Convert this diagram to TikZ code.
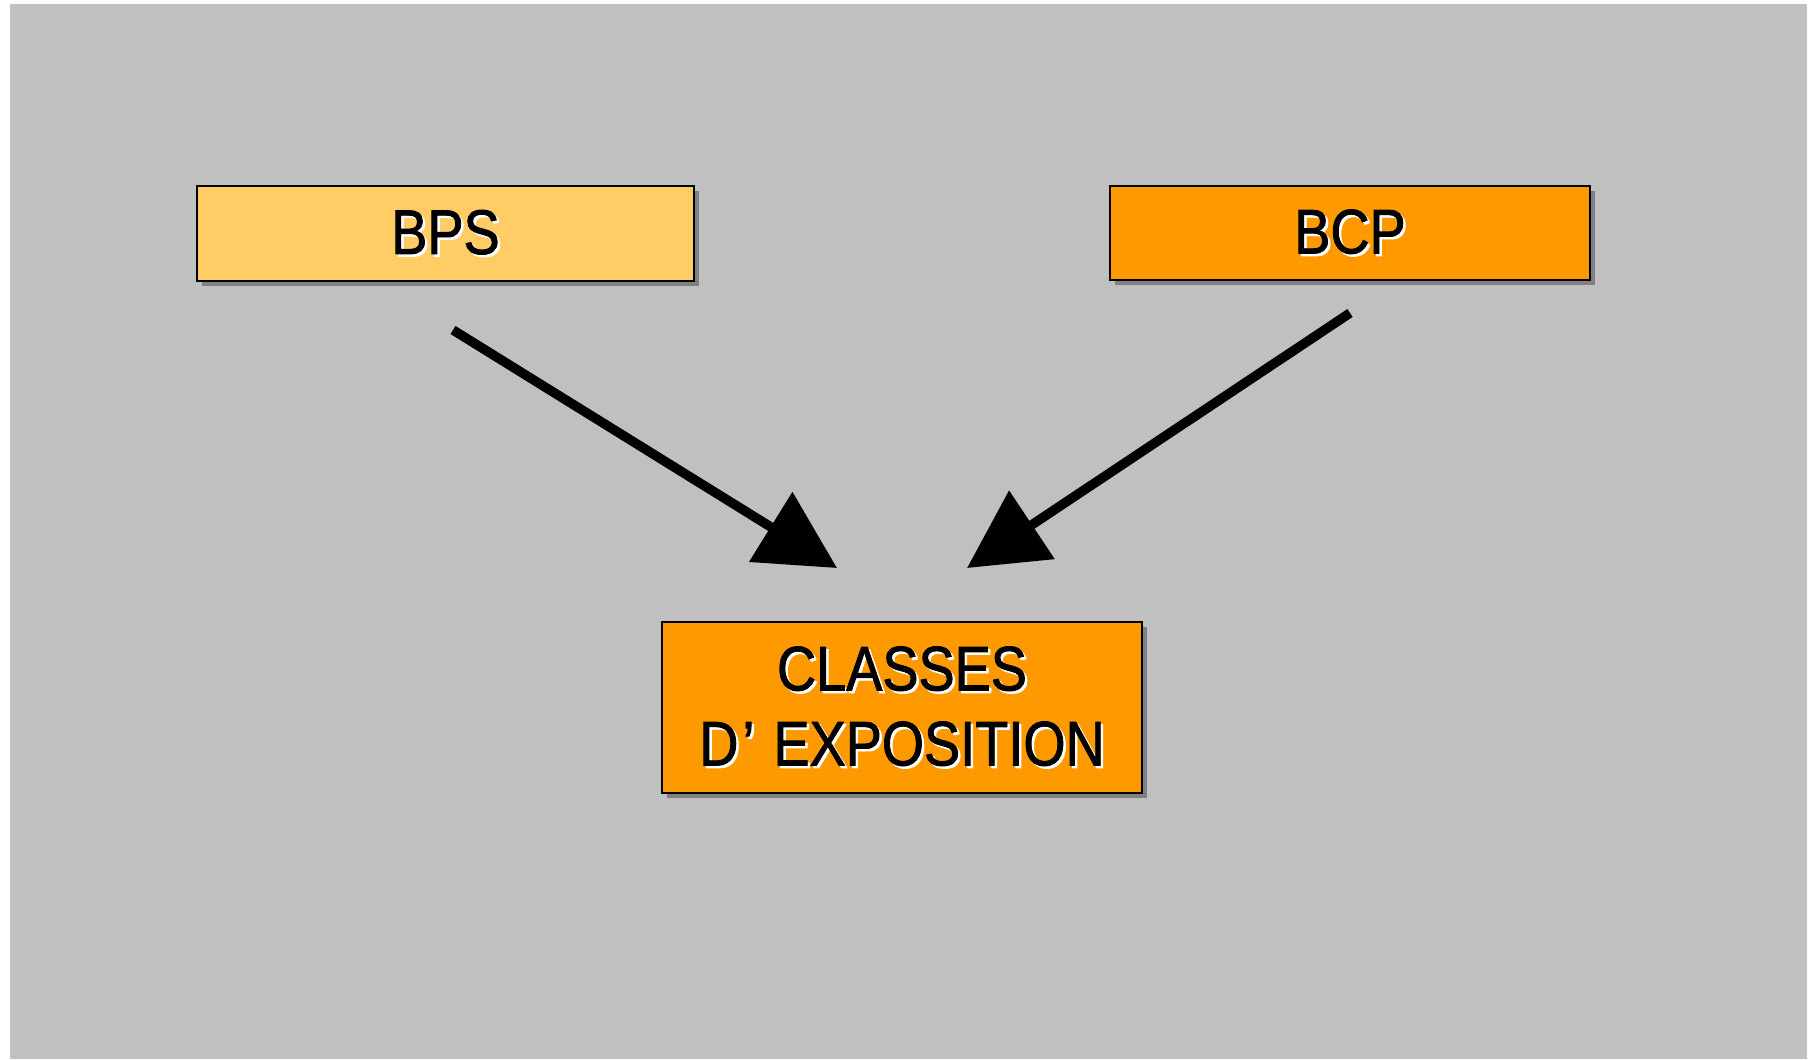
\documentclass[tikz,border=0pt]{standalone}
\usepackage{fontspec}
\setmainfont{Liberation Sans}
\newfontfamily\narfont[FakeStretch=0.86,FakeBold=1.3]{Liberation Sans}
\usetikzlibrary{arrows.meta,shadows}
\definecolor{bggray}{HTML}{C0C0C0}
\definecolor{lightorange}{HTML}{FFCC66}
\definecolor{deeporange}{HTML}{FF9900}
\definecolor{shadowgray}{HTML}{808080}
\newcommand\shw[1]{\leavevmode\rlap{\kern2.5pt\raisebox{-2.5pt}{\textcolor{white}{#1}}}#1}
\begin{document}
\begin{tikzpicture}[x=1pt,y=-1pt,
  boxstyle/.style={draw=black, line width=1.5pt, rectangle, inner sep=0pt,
    drop shadow={shadow xshift=5pt, shadow yshift=-5pt, fill=shadowgray, opacity=1},
    font=\narfont\fontsize{63}{75}\selectfont, align=center, text=black},
  arrowline/.style={line width=9.5pt, -{Triangle[length=78pt,width=80pt]}}]
\useasboundingbox (0,0) rectangle (1809,1060);
\fill[white] (0,0) rectangle (1809,1060);
\fill[bggray] (10,4) rectangle (1807,1059);
\node[boxstyle, fill=lightorange, minimum width=497pt, minimum height=95pt] (bps) at (445.5,233.5) {\shw{BPS}};
\node[boxstyle, fill=deeporange, minimum width=480pt, minimum height=94pt] (bcp) at (1350,233) {\shw{BCP}};
\node[boxstyle, fill=deeporange, minimum width=480pt, minimum height=171pt] (cls) at (902,707.5) {\shw{CLASSES}\\\shw{D\kern4pt’\kern19pt EXPOSITION}};
\coordinate (s1) at (453,330);
\coordinate (e1) at (837,568);
\coordinate (s2) at (1350,313);
\coordinate (e2) at (967,568);
\draw[arrowline] (s1) -- (e1);
\draw[arrowline] (s2) -- (e2);
\end{tikzpicture}
\end{document}
